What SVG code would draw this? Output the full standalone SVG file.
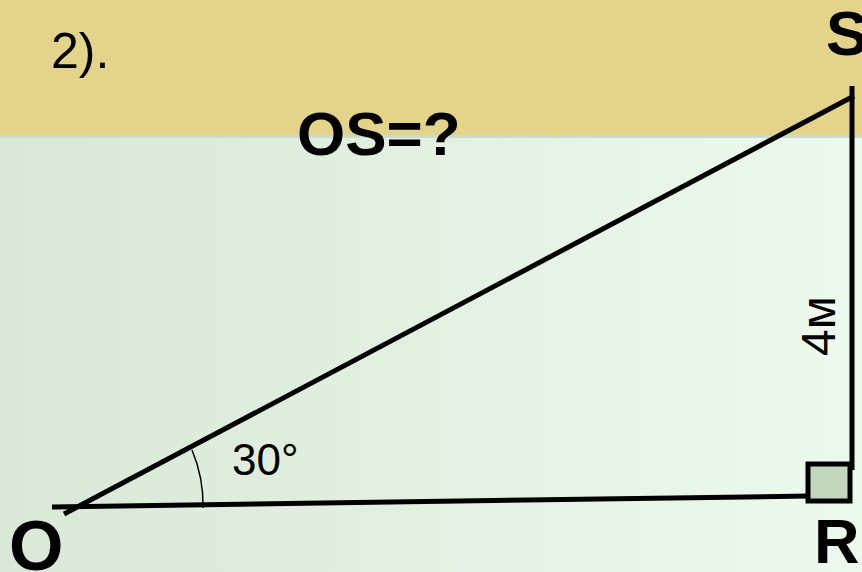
<svg xmlns="http://www.w3.org/2000/svg" width="862" height="572" viewBox="0 0 862 572">
  <defs>
    <linearGradient id="bg" x1="0" y1="0" x2="1" y2="0">
      <stop offset="0" stop-color="#d9e8d7"/>
      <stop offset="1" stop-color="#edf9ee"/>
    </linearGradient>
    <style>
      .edge { stroke: #000; stroke-width: 5; fill: none; }
      .lbl { font-family: "Liberation Sans", Arial, sans-serif; fill: #000; }
      .b { font-weight: bold; }
    </style>
  </defs>
  <rect x="0" y="0" width="862" height="572" fill="url(#bg)"/>
  <rect x="0" y="0" width="862" height="135" fill="#e4d48b"/>
  <rect x="0" y="135" width="862" height="3" fill="#cbdcc8"/>

  <g id="connectors">
    <line class="edge" x1="64" y1="514" x2="854" y2="96"/>
    <line class="edge" x1="852" y1="86" x2="852" y2="470"/>
    <line class="edge" x1="52" y1="507" x2="808" y2="496"/>
    <path d="M 192 450 A 141 141 0 0 1 203 508" fill="none" stroke="#000" stroke-width="1.5"/>
  </g>

  <g id="right-angle">
    <rect x="808" y="464" width="42" height="37" fill="#c5d6bf" stroke="#000" stroke-width="5"/>
  </g>

  <g id="title"><text class="lbl" x="51" y="68" font-size="50">2).</text></g>
  <g id="question"><text class="lbl b" x="297" y="155" font-size="62">OS=?</text></g>
  <g id="node-S"><text class="lbl b" x="826" y="55" font-size="63">S</text></g>
  <g id="node-O"><text class="lbl b" x="9" y="570" font-size="70">O</text></g>
  <g id="node-R"><text class="lbl b" x="814" y="563" font-size="63">R</text></g>
  <g id="angle-label"><text class="lbl" x="232" y="475" font-size="44">30°</text></g>
  <g id="side-label"><text class="lbl" font-size="48" transform="translate(835 356) rotate(-90)">4м</text></g>
</svg>
